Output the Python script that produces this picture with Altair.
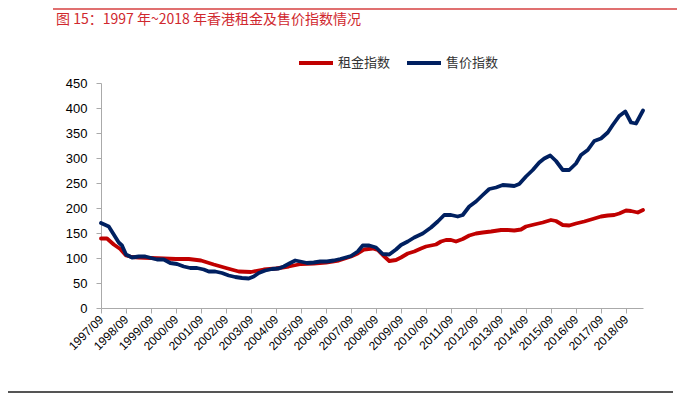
import altair as alt
import pandas as pd

# Rent index (租金指数): time (fractional year) and value
rent_t = [1997.75, 1997.99, 1998.26, 1998.52, 1998.75, 1998.99, 1999.26, 1999.75, 2000.26, 2000.75,
          2001.26, 2001.75, 2002.26, 2002.75, 2003.26, 2003.75, 2004.26, 2004.75, 2005.26, 2005.75,
          2006.26, 2006.75, 2007.26, 2007.75, 2008.02, 2008.28, 2008.62, 2008.82, 2009.02, 2009.28,
          2009.55, 2009.75, 2010.02, 2010.28, 2010.55, 2010.75, 2011.15, 2011.35, 2011.55, 2011.75,
          2011.95, 2012.22, 2012.48, 2012.75, 2013.02, 2013.35, 2013.75, 2014.02, 2014.28, 2014.55,
          2014.75, 2015.08, 2015.42, 2015.75, 2015.95, 2016.22, 2016.48, 2016.75, 2017.08, 2017.42,
          2017.75, 2018.02, 2018.28, 2018.48, 2018.75, 2018.95, 2019.22, 2019.43]
rent_v = [139, 139, 127, 118, 105, 102, 101, 100, 99, 98,
          98, 95, 87, 80, 73, 72, 77, 79, 83, 88,
          89, 91, 95, 103, 109, 117, 119, 116, 106, 94,
          96, 101, 109, 113, 119, 123, 127, 133, 136, 136,
          133, 138, 145, 149, 151, 153, 156, 156, 155, 157,
          163, 167, 171, 176, 174, 166, 165, 169, 173, 178,
          183, 185, 186, 189, 195, 194, 191, 196]

# Sale price index (售价指数)
sale_t = [1997.75, 1998.06, 1998.26, 1998.46, 1998.59, 1998.75, 1998.99, 1999.26, 1999.52, 1999.75,
          1999.99, 2000.26, 2000.52, 2000.79, 2001.06, 2001.32, 2001.59, 2001.86, 2002.06, 2002.32,
          2002.59, 2002.86, 2003.12, 2003.39, 2003.66, 2003.86, 2004.06, 2004.32, 2004.59, 2004.86,
          2005.06, 2005.32, 2005.52, 2005.72, 2005.99, 2006.26, 2006.52, 2006.79, 2007.06, 2007.32,
          2007.75, 2008.02, 2008.22, 2008.48, 2008.75, 2009.02, 2009.28, 2009.55, 2009.75, 2010.02,
          2010.28, 2010.62, 2010.95, 2011.22, 2011.48, 2011.75, 2012.02, 2012.22, 2012.48, 2012.75,
          2013.02, 2013.28, 2013.55, 2013.82, 2014.08, 2014.28, 2014.48, 2014.75, 2015.02, 2015.28,
          2015.48, 2015.72, 2015.95, 2016.22, 2016.48, 2016.75, 2016.95, 2017.22, 2017.48, 2017.75,
          2018.02, 2018.22, 2018.48, 2018.72, 2018.95, 2019.15, 2019.43]
sale_v = [170, 163, 147, 131, 125, 107, 101, 103, 103, 100,
          97, 97, 90, 88, 83, 80, 80, 77, 73, 73,
          70, 65, 62, 60, 59, 63, 70, 75, 78, 79,
          83, 90, 95, 93, 90, 91, 93, 93, 95, 98,
          104, 113, 125, 125, 121, 108, 107, 117, 126, 133,
          141, 149, 161, 173, 186, 186, 183, 186, 203, 213,
          226, 238, 241, 246, 245, 244, 248, 263, 276, 291,
          299, 305, 294, 276, 276, 289, 306, 316, 334, 339,
          351, 366, 384, 393, 371, 369, 395]

series_names = ["租金指数", "售价指数"]
series_colors = ["#c00000", "#002060"]
year_ticks = [1997.75 + i for i in range(22)]
y_ticks = list(range(0, 451, 50))
title_text = "图 15：1997 年~2018 年香港租金及售价指数情况"

df = pd.concat([
    pd.DataFrame({"t": rent_t, "v": rent_v, "s": series_names[0], "o": 0}),
    pd.DataFrame({"t": sale_t, "v": sale_v, "s": series_names[1], "o": 1}),
])

lab_font = "Liberation Sans"
cjk = "Noto Sans CJK SC"

lines = alt.Chart(df).mark_line(strokeWidth=3.8, strokeJoin="round", strokeCap="round").encode(
    x=alt.X("t:Q",
            scale=alt.Scale(domain=[1997.75, 2019.43], nice=False, zero=False),
            axis=alt.Axis(values=year_ticks, labelExpr="floor(datum.value) + '/09'",
                          labelAngle=-45, labelAlign="right", labelBaseline="middle",
                          labelFont=lab_font, labelFontSize=12, labelColor="#000",
                          domainColor="#aaaaaa", tickColor="#aaaaaa", tickSize=5,
                          labelPadding=4, grid=False, title=None, labelOverlap=False)),
    y=alt.Y("v:Q",
            scale=alt.Scale(domain=[0, 450], nice=False),
            axis=alt.Axis(values=y_ticks, labelFont=lab_font, labelFontSize=13, labelColor="#000",
                          domainColor="#aaaaaa", tickColor="#aaaaaa", tickSize=5,
                          labelPadding=9, grid=False, title=None)),
    color=alt.Color("s:N",
                    scale=alt.Scale(domain=series_names, range=series_colors),
                    legend=alt.Legend(orient="none", legendX=196, legendY=-39, direction="horizontal",
                                      title=None, symbolType="stroke", symbolSize=1156,
                                      symbolStrokeWidth=4, labelFont=cjk, labelFontSize=13,
                                      labelColor="#333", columnPadding=8, labelOffset=3,
                                      padding=0)),
    order="o:Q",
)

one = pd.DataFrame({"a": [0]})
title = alt.Chart(one).mark_text(align="left", baseline="middle", font=cjk, fontSize=14,
                                 color="#d0282e").encode(
    x=alt.value(-45), y=alt.value(-63.5), text=alt.value(title_text))
top_line = alt.Chart(one).mark_rule(color="#e07070", strokeWidth=2).encode(
    x=alt.value(-48), x2=alt.value(590), y=alt.value(-74))
bottom_line = alt.Chart(one).mark_rule(color="#555555", strokeWidth=2).encode(
    x=alt.value(-93), x2=alt.value(572), y=alt.value(309))

chart = alt.layer(lines, title, top_line, bottom_line).properties(
    width=542, height=225,
    autosize=alt.AutoSizeParams(type="none"),
    padding={"left": 93, "top": 75, "right": 34, "bottom": 86},
).configure_view(stroke=None)

chart.save("out.html", embed_options={"renderer": "svg", "actions": False})
